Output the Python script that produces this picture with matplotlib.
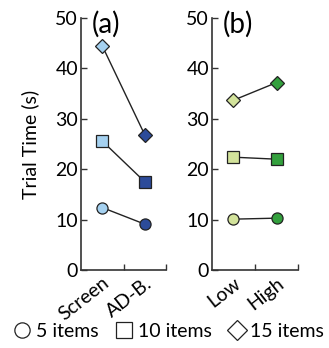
import matplotlib
matplotlib.use("Agg")
import matplotlib.pyplot as plt
from matplotlib.lines import Line2D

plt.rcParams['font.family'] = ['Lato', 'DejaVu Sans']

# Data
cats_a = ["Screen", "AD-B."]
cats_b = ["Low", "High"]
series = ["5 items", "10 items", "15 items"]
markers = ["o", "s", "D"]
vals_a = {"5 items": [12.4, 9.1], "10 items": [25.6, 17.5], "15 items": [44.5, 26.8]}
vals_b = {"5 items": [10.1, 10.3], "10 items": [22.4, 22.0], "15 items": [33.7, 37.2]}
colors_a = ["#a5d1f0", "#2c4b9a"]
colors_b = ["#d3e39b", "#33a03d"]
yticks = [0, 10, 20, 30, 40, 50]

fig = plt.figure(figsize=(3.29, 3.48), dpi=100)
ax1 = fig.add_axes([0.246, 0.224, 0.259, 0.724])
ax2 = fig.add_axes([0.644, 0.224, 0.262, 0.724])

spine_col = "#333333"
msize = {"o": 8, "s": 8, "D": 7}
fs = 14

for ax, cats, vals, cols, lab in [(ax1, cats_a, vals_a, colors_a, "(a)"),
                                   (ax2, cats_b, vals_b, colors_b, "(b)")]:
    xs = [0.5 + i for i in range(len(cats))]
    for s, m in zip(series, markers):
        v = vals[s]
        ax.plot(xs, v, color="#222222", lw=1.0, zorder=1)
        for x, y, c in zip(xs, v, cols):
            ax.plot([x], [y], marker=m, ms=msize[m], mfc=c, mec="#222222",
                    mew=0.9, ls="none", zorder=2)
    ax.set_xlim(0, 2)
    ax.set_ylim(0, 50)
    ax.set_yticks(yticks)
    ax.set_xticks(xs)
    ax.set_xticklabels(cats, rotation=38, ha="right", va="top",
                       rotation_mode="anchor", fontsize=fs)
    ax.set_xticks([1, 2], minor=True)
    ax.tick_params(axis="x", which="major", length=0, pad=3)
    ax.tick_params(axis="x", which="minor", direction="in", length=4,
                   width=1, color=spine_col)
    ax.tick_params(axis="y", direction="in", length=4, width=1,
                   color=spine_col, labelsize=fs, pad=2)
    for sp in ["top", "right"]:
        ax.spines[sp].set_visible(False)
    for sp in ["left", "bottom"]:
        ax.spines[sp].set_color(spine_col)
        ax.spines[sp].set_linewidth(1.2)
    ax.text(0.25, 48.8, lab, fontsize=20, va="center", ha="left")
    ax.patch.set_visible(False)

ax1.set_ylabel("Trial Time (s)", fontsize=fs, labelpad=12)

handles = [Line2D([], [], marker=m, ls="none", mfc="white", mec="#222222",
                  ms=msize[m] + 3, mew=0.9) for m in markers]
fig.legend(handles, series, loc="lower center", bbox_to_anchor=(0.515, -0.015),
           ncol=3, frameon=False, fontsize=fs, handlelength=0.8,
           handletextpad=0.3, columnspacing=0.9, borderpad=0.2)

fig.savefig("out.png", dpi=100)
